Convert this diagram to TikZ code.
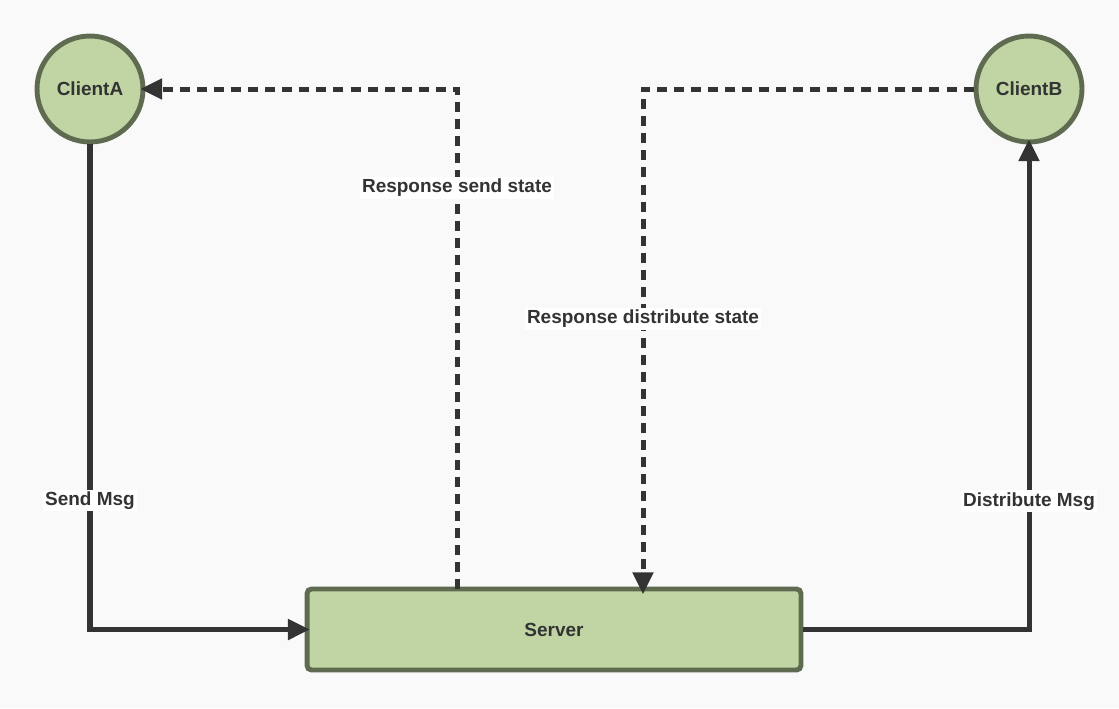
\documentclass[tikz,border=0pt]{standalone}
\usepackage{fontspec}
\setmainfont{Liberation Sans}
\usepackage{tikz}
\usetikzlibrary{arrows.meta}

\definecolor{bgcol}{HTML}{F9F9F9}
\definecolor{nodefill}{HTML}{C1D5A4}
\definecolor{nodeline}{HTML}{5F6B50}
\definecolor{ink}{HTML}{333333}

\begin{document}
\begin{tikzpicture}[x=0.02cm, y=-0.02cm,
        every node/.style={font=\fontsize{10.8}{13}\selectfont\bfseries, text=ink},
        client/.style={circle, draw=nodeline, fill=nodefill, line width=2.8pt, minimum size=2.12cm, inner sep=0pt},
        server/.style={rectangle, rounded corners=2.5pt, draw=nodeline, fill=nodefill, line width=2.8pt, minimum width=9.88cm, minimum height=1.62cm},
        msg/.style={draw=ink, line width=2.85pt, shorten >=-3pt, -{Triangle[length=12.5pt, width=11.4pt]}},
        resp/.style={msg, dash pattern=on 5.7pt off 4pt},
        lbl/.style={fill=white, inner sep=1.2pt}]
            \fill[bgcol] (0,0) rectangle (1119,708);
            \node[client] (ca) at (90, 89) {ClientA};
            \node[client] (cb) at (1029, 89) {ClientB};
            \node[server] (srv) at (554, 629.5) {\raisebox{-2pt}{Server}};
            \coordinate (rs) at (457, 589);
            \coordinate (rd) at (643, 589);
            \draw[msg] (ca.south) |- node[lbl, pos=0.367] {Send Msg} (srv.west);
            \draw[msg] (srv.east) -| node[lbl, pos=0.632] {Distribute Msg} (cb.south);
            \draw[resp] (rs) |- node[lbl, pos=0.401] {Response send state} (ca.east);
            \draw[resp] (cb.west) -| node[lbl, pos=0.73] {Response distribute state} (rd);
        \end{tikzpicture}
\end{document}
